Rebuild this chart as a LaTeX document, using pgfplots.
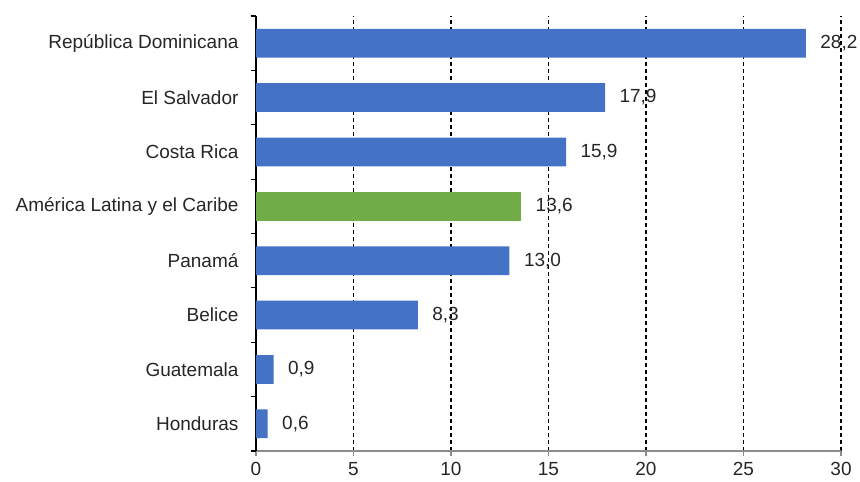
\documentclass[border=0pt]{standalone}
\usepackage{pgfplots}
\pgfplotsset{compat=1.18}
\usepackage{fontspec}
\setmainfont{Liberation Sans}
\definecolor{barblue}{HTML}{4472C4}
\definecolor{bargreen}{HTML}{70AD47}
\definecolor{axgray}{HTML}{8C8C8C}
\begin{document}
\fontsize{19bp}{22bp}\selectfont
\begin{tikzpicture}
\begin{axis}[
  scale only axis,
  width=585bp, height=435bp,
  xmin=0, xmax=30,
  ymin=-0.5, ymax=7.5,
  axis lines*=left,
  xbar, bar shift=0pt, bar width=0.53,
  xtick={0,5,...,30},
  xmajorgrids,
  major grid style={black, dash pattern=on 4bp off 3bp, line width=1.2bp},
  x axis line style={axgray, line width=2bp},
  y axis line style={black, line width=1.3bp},
  tick align=outside,
  major tick length=5bp,
  x tick style={axgray, line width=1.2bp},
  y tick style={black, line width=1.2bp},
  ytick={-0.5,0.5,...,7.5},
  yticklabels={},
  extra y ticks={0,1,2,3,4,5,6,7},
  extra y tick labels={Honduras,Guatemala,Belice,Panamá,América Latina y el Caribe,Costa Rica,El Salvador,República Dominicana},
  extra y tick style={tick style={draw=none}, yticklabel style={xshift=-6bp}, grid=none},
  tick label style={font=\fontsize{19bp}{22bp}\selectfont, text=black!85},
  xticklabel style={yshift=0bp},
  /pgf/number format/assume math mode=true,
  nodes near coords,
  nodes near coords style={anchor=west, xshift=8bp, font=\fontsize{19bp}{22bp}\selectfont, text=black!85,
    /pgf/number format/.cd, fixed, fixed zerofill, precision=1, use comma, assume math mode=true},
]
\addplot[fill=barblue, draw=none] coordinates {
  (0.6,0) (0.9,1) (8.3,2) (13.0,3) (15.9,5) (17.9,6) (28.2,7)
};
\addplot[fill=bargreen, draw=none] coordinates {
  (13.6,4)
};
\end{axis}
\pgfresetboundingbox
\path[use as bounding box] (-256bp,-31bp) rectangle (604bp,451bp);
\end{tikzpicture}
\end{document}
